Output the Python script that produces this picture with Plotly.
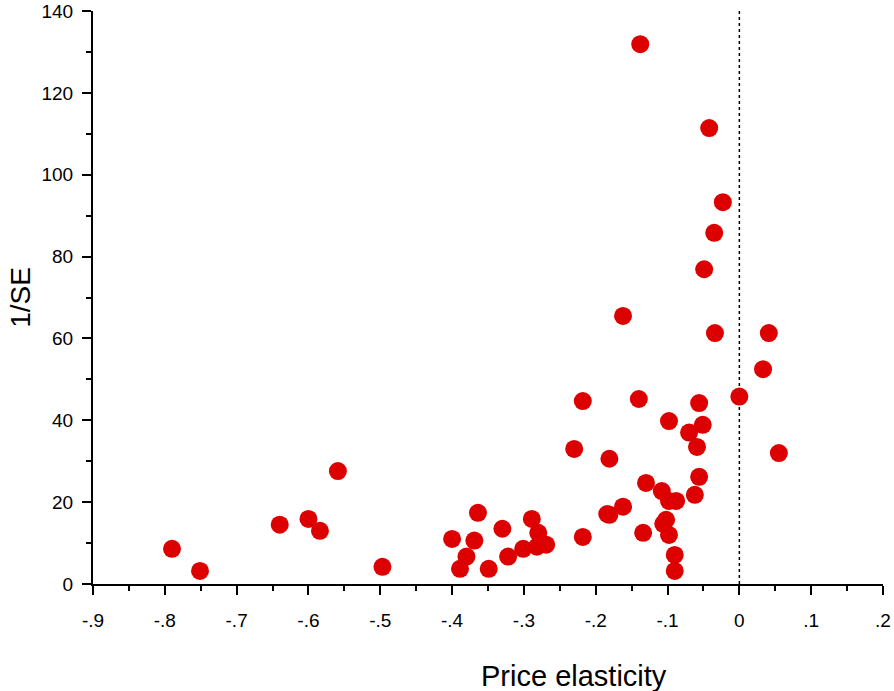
import plotly.graph_objects as go

# Data
elasticity = [-0.138, -0.042, -0.023, -0.035, -0.049, -0.162, -0.034, 0.041, 0.033, 0.000,
              -0.218, -0.140, -0.056, -0.098, -0.051, -0.070, -0.059, -0.230, -0.181, 0.055,
              -0.559, -0.056, -0.130, -0.108, -0.062, -0.098, -0.088, -0.162, -0.184, -0.181,
              -0.106, -0.102, -0.098, -0.134, -0.218, -0.090, -0.090, -0.364, -0.400, -0.369,
              -0.330, -0.289, -0.280, -0.301, -0.282, -0.269, -0.380, -0.389, -0.349, -0.322,
              -0.790, -0.751, -0.640, -0.600, -0.584, -0.497]
inv_se = [131.9, 111.4, 93.3, 85.8, 76.9, 65.5, 61.3, 61.3, 52.5, 45.8,
          44.7, 45.2, 44.2, 39.8, 38.9, 37.0, 33.5, 33.0, 30.6, 32.0,
          27.6, 26.2, 24.7, 22.7, 21.8, 20.3, 20.3, 18.9, 17.1, 16.9,
          14.7, 15.7, 12.0, 12.5, 11.5, 7.1, 3.2, 17.4, 11.0, 10.6,
          13.5, 15.9, 12.5, 8.6, 9.1, 9.6, 6.7, 3.7, 3.7, 6.7,
          8.6, 3.2, 14.5, 15.9, 13.0, 4.2]

x_tickvals = [-0.9, -0.8, -0.7, -0.6, -0.5, -0.4, -0.3, -0.2, -0.1, 0, 0.1, 0.2]
x_ticktext = ["-.9", "-.8", "-.7", "-.6", "-.5", "-.4", "-.3", "-.2", "-.1", "0", ".1", ".2"]
y_tickvals = [0, 20, 40, 60, 80, 100, 120, 140]

FONT = "Liberation Sans, Arial, sans-serif"

fig = go.Figure()
fig.add_trace(go.Scatter(
    x=elasticity, y=inv_se, mode="markers",
    marker=dict(size=18, color="#DD0000", line=dict(width=0)),
    showlegend=False, cliponaxis=False,
))

fig.add_shape(type="line", xref="x", yref="y", x0=0, x1=0, y0=0, y1=140,
              line=dict(color="black", width=1.5, dash="dot"), layer="below")

axis_common = dict(
    showline=True, linecolor="black", linewidth=2,
    ticks="outside", ticklen=9, tickwidth=1.5, tickcolor="black",
    showgrid=False, zeroline=False, automargin=False,
    tickfont=dict(family=FONT, size=19, color="black"),
)

fig.update_xaxes(range=[-0.9, 0.2], tickmode="array", tickvals=x_tickvals, ticktext=x_ticktext,
                 minor=dict(ticks="outside", ticklen=5, tickwidth=1.5, tickcolor="black",
                            tick0=-0.9, dtick=0.05, showgrid=False),
                 ticklabelstandoff=9, **axis_common)
fig.update_yaxes(range=[0, 140], tickmode="array", tickvals=y_tickvals,
                 minor=dict(ticks="outside", ticklen=5, tickwidth=1.5, tickcolor="black",
                            tick0=0, dtick=10, showgrid=False),
                 ticklabelstandoff=5, **axis_common)

fig.add_annotation(text="Price elasticity", xref="paper", yref="paper",
                   x=0.609, y=-0.161, xanchor="center", yanchor="middle", showarrow=False,
                   font=dict(family=FONT, size=29, color="black"))
fig.add_annotation(text="1/SE", xref="paper", yref="paper",
                   x=-0.092, y=0.5, xanchor="center", yanchor="middle", showarrow=False,
                   textangle=-90, font=dict(family=FONT, size=28, color="black"))

fig.update_layout(
    width=894, height=691,
    margin=dict(l=93, r=11, t=11, b=107),
    plot_bgcolor="white", paper_bgcolor="white",
)

fig.write_html("out.html", config={"displayModeBar": False},
               post_script="document.body.style.margin='0';document.body.style.overflow='hidden';")
